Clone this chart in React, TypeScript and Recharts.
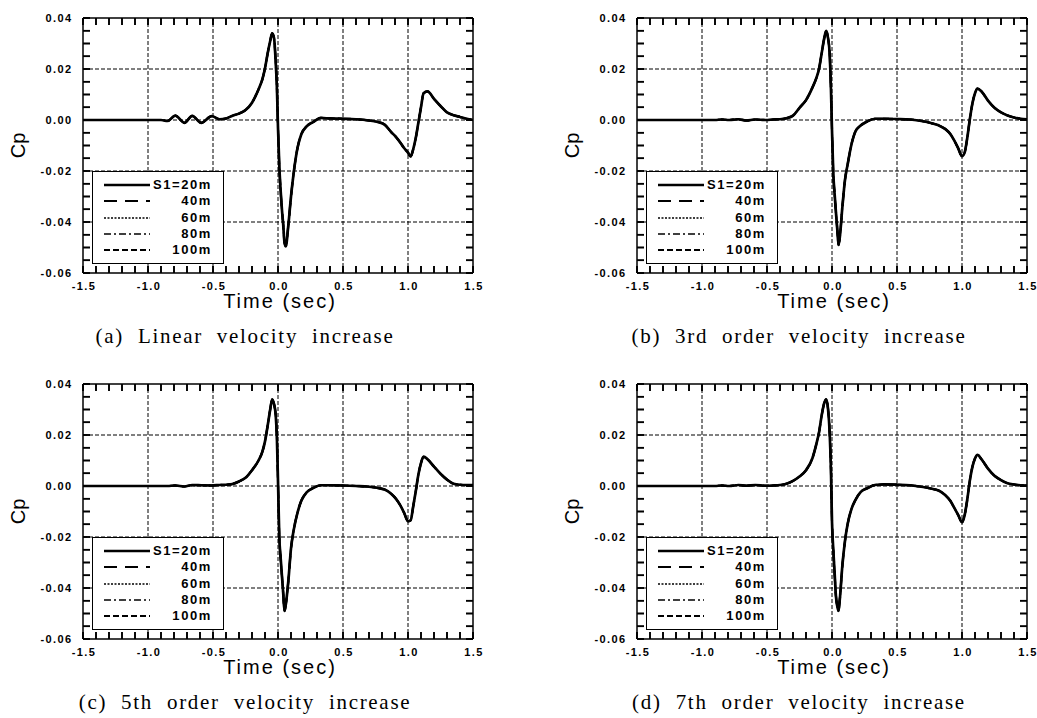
import React from "react";
import { Legend, Line, LineChart, ReferenceLine, XAxis, YAxis } from "recharts";

// sample times (sec), shared by the four panels
const TIME = [
  -1.5, -1.2, -0.9, -0.85, -0.79, -0.72, -0.66, -0.59, -0.51, -0.45,
  -0.4, -0.35, -0.3, -0.25, -0.2, -0.15, -0.12, -0.1, -0.08, -0.06,
  -0.045, -0.03, -0.018, -0.008, 0, 0.01, 0.02, 0.03, 0.04, 0.05,
  0.06, 0.08, 0.1, 0.12, 0.15, 0.18, 0.22, 0.27, 0.33, 0.4,
  0.5, 0.6, 0.7, 0.76, 0.82, 0.87, 0.91, 0.94, 0.97, 1.0,
  1.02, 1.04, 1.06, 1.08, 1.1, 1.12, 1.15, 1.2, 1.25, 1.3,
  1.35, 1.4, 1.45, 1.5,
];

// Cp (the five S1 curves lie on top of each other)
const CP_LINEAR = [
  0, 0, 0, -0.0004, 0.0017, -0.0011, 0.0016, -0.0011, 0.0015, 0.0003,
  0.0006, 0.0017, 0.0025, 0.0039, 0.0068, 0.012, 0.016, 0.0203, 0.026, 0.031,
  0.034, 0.032, 0.023, 0.012, -0.003, -0.018, -0.0275, -0.035, -0.041, -0.048,
  -0.0495, -0.041, -0.03, -0.021, -0.011, -0.0055, -0.0025, -0.0008, 0.0008, 0.0006,
  0.0005, 0.0003, -0.0002, -0.0007, -0.0018, -0.0047, -0.0068, -0.0088, -0.011, -0.0128,
  -0.0143, -0.0115, -0.007, -0.001, 0.005, 0.0105, 0.0112, 0.0083, 0.0055, 0.003,
  0.0019, 0.0012, 0.0005, 0,
];
const CP_THIRD = [
  0, 0, 0, 0.0002, 0, 0.0003, -0.0002, 0.0002, 0, 0.0002,
  0.0003, 0.0007, 0.0017, 0.0048, 0.0078, 0.0128, 0.0165, 0.02, 0.026, 0.032,
  0.035, 0.032, 0.026, 0.012, -0.004, -0.021, -0.029, -0.036, -0.0425, -0.049,
  -0.046, -0.034, -0.0235, -0.0175, -0.0095, -0.0045, -0.0022, -0.0006, 0.0005, 0.0005,
  0.0004, 0.0002, -0.0005, -0.0012, -0.0021, -0.0035, -0.0055, -0.008, -0.011, -0.0142,
  -0.0128, -0.0072, 0.0002, 0.0065, 0.0105, 0.0123, 0.0112, 0.0076, 0.0048, 0.003,
  0.0018, 0.001, 0.0005, 0.0003,
];
const CP_FIFTH = [
  0, 0, 0, 0, 0.0002, -0.0002, 0.0004, 0.0003, 0.0002, 0.0004,
  0.0005, 0.0008, 0.0018, 0.0032, 0.0062, 0.01, 0.0135, 0.0175, 0.0235, 0.03,
  0.034, 0.032, 0.028, 0.018, 0.002, -0.02, -0.028, -0.035, -0.042, -0.049,
  -0.0465, -0.037, -0.0245, -0.0175, -0.0105, -0.0057, -0.0025, -0.0008, 0.0003, 0.0003,
  0.0002, 0, -0.0003, -0.0007, -0.0014, -0.003, -0.0052, -0.0075, -0.0105, -0.0138,
  -0.0135, -0.008, -0.002, 0.0045, 0.009, 0.0115, 0.0105, 0.0076, 0.0048, 0.0025,
  0.0009, 0.0005, 0.0004, 0.0004,
];
const CP_SEVENTH = [
  0, 0, 0, 0.0002, 0, 0.0004, 0.0001, 0.0004, 0.0001, 0.0002,
  0.0004, 0.0009, 0.002, 0.0037, 0.0062, 0.011, 0.0165, 0.021, 0.0275, 0.0325,
  0.034, 0.03, 0.021, 0.006, -0.014, -0.025, -0.034, -0.043, -0.047, -0.049,
  -0.0445, -0.031, -0.0215, -0.015, -0.009, -0.0055, -0.0024, -0.0009, 0.0004, 0.0006,
  0.0005, 0.0003, -0.0004, -0.001, -0.0018, -0.0035, -0.0058, -0.0085, -0.0113, -0.0142,
  -0.0115, -0.0055, 0.002, 0.0075, 0.0108, 0.0122, 0.0105, 0.0068, 0.004, 0.0023,
  0.0011, 0.0006, 0.0003, 0.0002,
];

const SERIES = [
  { key: "s20", name: "S1=20m", dash: undefined, width: 2.7 },
  { key: "s40", name: "40m", dash: "13 8", width: 2.2 },
  { key: "s60", name: "60m", dash: "2 1.5", width: 1.4 },
  { key: "s80", name: "80m", dash: "7 3 2 3", width: 1.7 },
  { key: "s100", name: "100m", dash: "6 3", width: 1.9 },
];

const X_TICKS = [
  -1.5, -1.4, -1.3, -1.2, -1.1, -1.0, -0.9, -0.8, -0.7, -0.6, -0.5,
  -0.4, -0.3, -0.2, -0.1, 0, 0.1, 0.2, 0.3, 0.4, 0.5,
  0.6, 0.7, 0.8, 0.9, 1.0, 1.1, 1.2, 1.3, 1.4, 1.5,
];
const X_LABELS = [-1.5, -1.0, -0.5, 0, 0.5, 1.0, 1.5];
const Y_TICKS = [
  -0.06, -0.055, -0.05, -0.045, -0.04, -0.035, -0.03, -0.025, -0.02, -0.015, -0.01,
  -0.005, 0, 0.005, 0.01, 0.015, 0.02, 0.025, 0.03, 0.035, 0.04,
];
const Y_LABELS = [0.04, 0.02, 0, -0.02, -0.04, -0.06];
const X_GRID = [-1.0, -0.5, 0, 0.5, 1.0];
const Y_GRID = [0.02, 0, -0.02, -0.04];
const X_DOMAIN: [number, number] = [-1.5, 1.5];
const Y_DOMAIN: [number, number] = [-0.06, 0.04];

const PANELS = [
  { id: "a", caption: "(a) Linear velocity increase", values: CP_LINEAR, left: 0, top: 0 },
  { id: "b", caption: "(b) 3rd order velocity increase", values: CP_THIRD, left: 554, top: 0 },
  { id: "c", caption: "(c) 5th order velocity increase", values: CP_FIFTH, left: 0, top: 366 },
  { id: "d", caption: "(d) 7th order velocity increase", values: CP_SEVENTH, left: 554, top: 366 },
];

const SANS = '"Liberation Sans", Arial, sans-serif';
const SERIF = '"Liberation Serif", "DejaVu Serif", serif';
const W = 483;
const H = 330;
const PLOT_W = 390;
const PLOT_H = 255;
const TICK = 7; // inward tick length (negative tickSize)
const TICK_DX = (TICK / PLOT_W) * (X_DOMAIN[1] - X_DOMAIN[0]);
const TICK_DY = (TICK / PLOT_H) * (Y_DOMAIN[1] - Y_DOMAIN[0]);

const tickText = {
  fontFamily: SANS,
  fontWeight: 700,
  fontSize: 11,
  letterSpacing: 1.4,
  fill: "#000",
};
const frame = { stroke: "#000", strokeWidth: 1.5 };
const tickLine = { stroke: "#000", strokeWidth: 1.6 };

const near = (list: number[], v: number) => list.some((m) => Math.abs(m - v) < 1e-6);

// tick marks come from tickLine; these only write the labels.
// with tickSize = -TICK and tickMargin = 0 the given point sits TICK px inside the frame
function BottomLabel({ x, y, payload }: any) {
  if (!near(X_LABELS, payload.value)) return <g />;
  return (
    <text x={x + 1} y={y + TICK + 13} textAnchor="middle" dominantBaseline="central" style={tickText}>
      {payload.value.toFixed(1)}
    </text>
  );
}

function LeftLabel({ x, y, payload }: any) {
  if (!near(Y_LABELS, payload.value)) return <g />;
  return (
    <text x={x - TICK - 10.5} y={y} textAnchor="end" dominantBaseline="central" style={tickText}>
      {payload.value.toFixed(2)}
    </text>
  );
}

const NoLabel = () => <g />;

const timeLabel = ({ viewBox }: any) => (
  <text
    x={viewBox.x + viewBox.width / 2 + 2}
    y={viewBox.y + 28}
    textAnchor="middle"
    dominantBaseline="central"
    style={{ fontFamily: SANS, fontSize: 20, letterSpacing: 2, fill: "#000" }}
  >
    Time (sec)
  </text>
);

const cpLabel = ({ viewBox }: any) => {
  const cx = viewBox.x + 18;
  const cy = viewBox.y + viewBox.height / 2;
  return (
    <text
      x={cx}
      y={cy}
      transform={`rotate(-90 ${cx} ${cy})`}
      textAnchor="middle"
      dominantBaseline="central"
      style={{ fontFamily: SANS, fontSize: 20, fill: "#000" }}
    >
      Cp
    </text>
  );
};

function LegendBox() {
  return (
    <div
      style={{
        width: 132,
        height: 93,
        boxSizing: "border-box",
        border: "1.5px solid #000",
        background: "#fff",
        paddingTop: 5,
        fontFamily: SANS,
        fontWeight: 700,
        fontSize: 13,
        letterSpacing: 1.6,
        color: "#000",
      }}
    >
      {SERIES.map((s) => (
        <div key={s.key} style={{ display: "flex", alignItems: "center", height: 16.3 }}>
          <svg width={57} height={10} style={{ display: "block" }}>
            <line
              x1={11}
              x2={57}
              y1={5}
              y2={5}
              stroke="#000"
              strokeWidth={s.width}
              strokeDasharray={s.dash}
            />
          </svg>
          <span style={{ width: 62, textAlign: "right", lineHeight: "16px" }}>{s.name}</span>
        </div>
      ))}
    </div>
  );
}

// short inward mark through the chart scales (backs up the axis tick lines)
function tickMark(key: string, a: { x: number; y: number }, b: { x: number; y: number }) {
  return (
    <ReferenceLine
      key={key}
      xAxisId="b"
      yAxisId="l"
      segment={[a, b]}
      ifOverflow="visible"
      stroke="#000"
      strokeWidth={1.6}
    />
  );
}

function Panel({ caption, values, left, top }: (typeof PANELS)[number]) {
  const rows = TIME.map((t, i) => {
    const row: Record<string, number> = { t };
    SERIES.forEach((s) => {
      row[s.key] = values[i];
    });
    return row;
  });

  const [x0, x1] = X_DOMAIN;
  const [y0, y1] = Y_DOMAIN;

  return (
    <div style={{ position: "absolute", left, top, width: W, height: 355 }}>
      <LineChart width={W} height={H} data={rows} margin={{ top: 17, right: 9, bottom: 0, left: 0 }}>
        <XAxis
          xAxisId="b"
          dataKey="t"
          type="number"
          domain={X_DOMAIN}
          allowDataOverflow
          ticks={X_TICKS}
          interval={0}
          tick={BottomLabel}
          tickLine={tickLine}
          tickSize={-TICK}
          tickMargin={0}
          axisLine={frame}
          height={H - 17 - 1 - PLOT_H}
          label={timeLabel}
        />
        <XAxis
          xAxisId="top"
          orientation="top"
          dataKey="t"
          type="number"
          domain={X_DOMAIN}
          allowDataOverflow
          ticks={X_TICKS}
          interval={0}
          tick={NoLabel}
          tickLine={tickLine}
          tickSize={-TICK}
          tickMargin={0}
          axisLine={frame}
          height={1}
        />
        <YAxis
          yAxisId="l"
          type="number"
          domain={Y_DOMAIN}
          allowDataOverflow
          ticks={Y_TICKS}
          interval={0}
          tick={LeftLabel}
          tickLine={tickLine}
          tickSize={-TICK}
          tickMargin={0}
          axisLine={frame}
          width={83}
          label={cpLabel}
        />
        <YAxis
          yAxisId="r"
          orientation="right"
          type="number"
          domain={Y_DOMAIN}
          allowDataOverflow
          ticks={Y_TICKS}
          interval={0}
          tick={NoLabel}
          tickLine={tickLine}
          tickSize={-TICK}
          tickMargin={0}
          axisLine={frame}
          width={1}
        />
        {X_GRID.map((v) => (
          <ReferenceLine
            key={`gx${v}`}
            xAxisId="b"
            yAxisId="l"
            x={v}
            stroke="#000"
            strokeWidth={1}
            strokeDasharray="4 2"
          />
        ))}
        {Y_GRID.map((v) => (
          <ReferenceLine
            key={`gy${v}`}
            xAxisId="b"
            yAxisId="l"
            y={v}
            stroke="#000"
            strokeWidth={1}
            strokeDasharray="4 2"
          />
        ))}
        {X_TICKS.map((v) => tickMark(`tb${v}`, { x: v, y: y0 }, { x: v, y: y0 + TICK_DY }))}
        {X_TICKS.map((v) => tickMark(`tt${v}`, { x: v, y: y1 }, { x: v, y: y1 - TICK_DY }))}
        {Y_TICKS.map((v) => tickMark(`tl${v}`, { x: x0, y: v }, { x: x0 + TICK_DX, y: v }))}
        {Y_TICKS.map((v) => tickMark(`tr${v}`, { x: x1, y: v }, { x: x1 - TICK_DX, y: v }))}
        {SERIES.map((s) => (
          <Line
            key={s.key}
            xAxisId="b"
            yAxisId="l"
            dataKey={s.key}
            name={s.name}
            type="monotone"
            stroke="#000"
            strokeWidth={s.width}
            strokeDasharray={s.dash}
            dot={false}
            activeDot={false}
            isAnimationActive={false}
          />
        ))}
        <Legend
          layout="vertical"
          align="center"
          verticalAlign="middle"
          wrapperStyle={{ left: 92, top: 171, width: 132, height: 93 }}
          content={() => <LegendBox />}
        />
      </LineChart>
      <div
        style={{
          position: "absolute",
          left: 45,
          width: 400,
          top: 323,
          lineHeight: "26px",
          textAlign: "center",
          fontFamily: SERIF,
          fontSize: 21,
          letterSpacing: 1.7,
          wordSpacing: 7,
          color: "#000",
          whiteSpace: "nowrap",
        }}
      >
        {caption}
      </div>
    </div>
  );
}

export default function App() {
  return (
    <div
      style={{
        position: "absolute",
        left: 0,
        top: 0,
        width: 1037,
        height: 718,
        overflow: "hidden",
        background: "#fff",
      }}
    >
      {PANELS.map((p) => (
        <Panel key={p.id} {...p} />
      ))}
    </div>
  );
}
